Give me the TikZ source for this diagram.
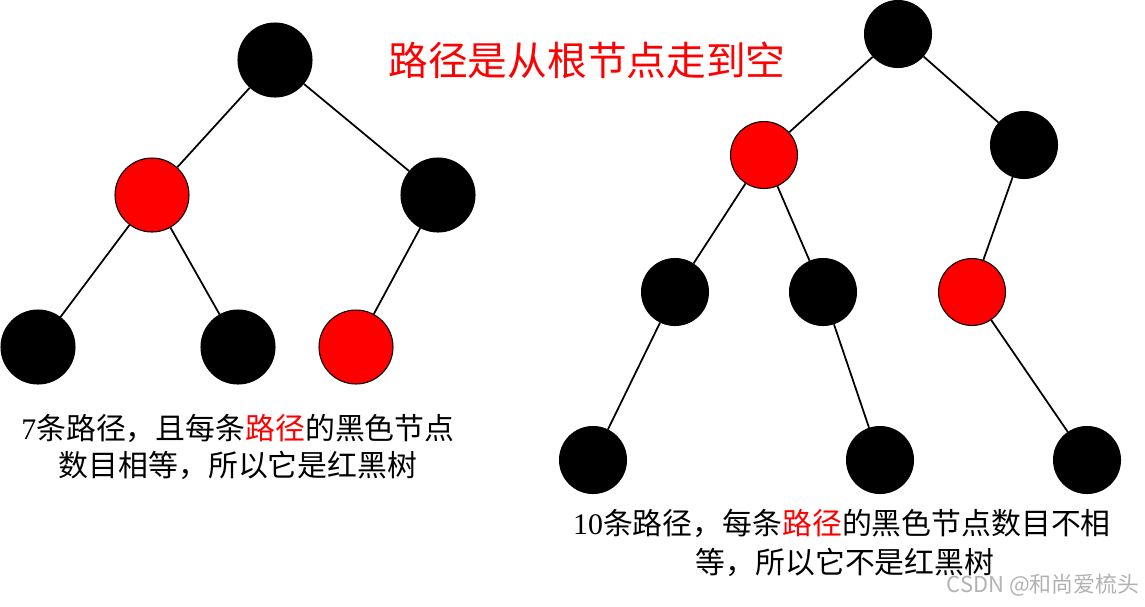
\documentclass[tikz,border=0pt]{standalone}
\usepackage{fontspec}
\setmainfont{Liberation Serif}
\newfontfamily\cjk{Noto Sans CJK SC}
\usetikzlibrary{positioning}
\tikzset{
  blknode/.style={circle, draw=black, fill=black, line width=0.6pt,
    inner sep=0pt, minimum size=#1},
  blknode/.default=1.48cm,
  rednode/.style={circle, draw=black, fill=red, line width=0.6pt,
    inner sep=0pt, minimum size=#1},
  rednode/.default=1.48cm,
  branch/.style={draw=black, line width=1pt},
  note/.style={font=\fontsize{17}{21}\selectfont, inner sep=0pt},
}
\begin{document}
\begin{tikzpicture}[x=0.02cm, y=-0.02cm]
  \useasboundingbox (0,0) rectangle (1145,606);
  % title
  \node[font=\cjk\fontsize{22.6}{26}\selectfont, text=red, inner sep=0pt] (title) at (587,60) {路径是从根节点走到空};
  % left tree
  \node[blknode] (lroot) at (275,60) {};
  \node[rednode] (lred) at (152,195) {};
  \node[blknode] (lblk) at (438,195) {};
  \node[blknode] (lll) at (38,347) {};
  \node[blknode] (llr) at (238,347) {};
  \node[rednode] (lrl) at (356,347) {};
  \draw[branch] (lroot) -- (lred);
  \draw[branch] (lroot) -- (lblk);
  \draw[branch] (lred) -- (lll);
  \draw[branch] (lred) -- (llr);
  \draw[branch] (lblk) -- (lrl);
  \node[note] (ltxta) at (238,428) {7{\cjk 条路径，且每条\textcolor{red}{路径}的黑色节点}};
  \node[note] (ltxtb) at (238,465) {\cjk 数目相等，所以它是红黑树};
  % right tree
  \node[blknode=1.34cm] (rroot) at (898,34) {};
  \node[rednode=1.34cm] (rred) at (764,155) {};
  \node[blknode=1.34cm] (rblk) at (1024,145) {};
  \node[blknode=1.34cm] (rll) at (675,292) {};
  \node[blknode=1.34cm] (rlr) at (823,292) {};
  \node[rednode=1.34cm] (rrl) at (972,292) {};
  \node[blknode=1.34cm] (rlll) at (593,460) {};
  \node[blknode=1.34cm] (rlrr) at (880,460) {};
  \node[blknode=1.34cm] (rrlr) at (1087,460) {};
  \draw[branch] (rroot) -- (rred);
  \draw[branch] (rroot) -- (rblk);
  \draw[branch] (rred) -- (rll);
  \draw[branch] (rred) -- (rlr);
  \draw[branch] (rblk) -- (rrl);
  \draw[branch] (rll) -- (rlll);
  \draw[branch] (rlr) -- (rlrr);
  \draw[branch] (rrl) -- (rrlr);
  \node[note] (rtxta) at (842,523) {10{\cjk 条路径，每条\textcolor{red}{路径}的黑色节点数目不相}};
  \node[note] (rtxtb) at (845,562) {\cjk 等，所以它不是红黑树};
  % watermark
  \node[font=\cjk\fontsize{12.5}{15}\selectfont, text=black!30, inner sep=0pt, anchor=east] (mark) at (1140,585) {CSDN @和尚爱梳头};
\end{tikzpicture}
\end{document}
